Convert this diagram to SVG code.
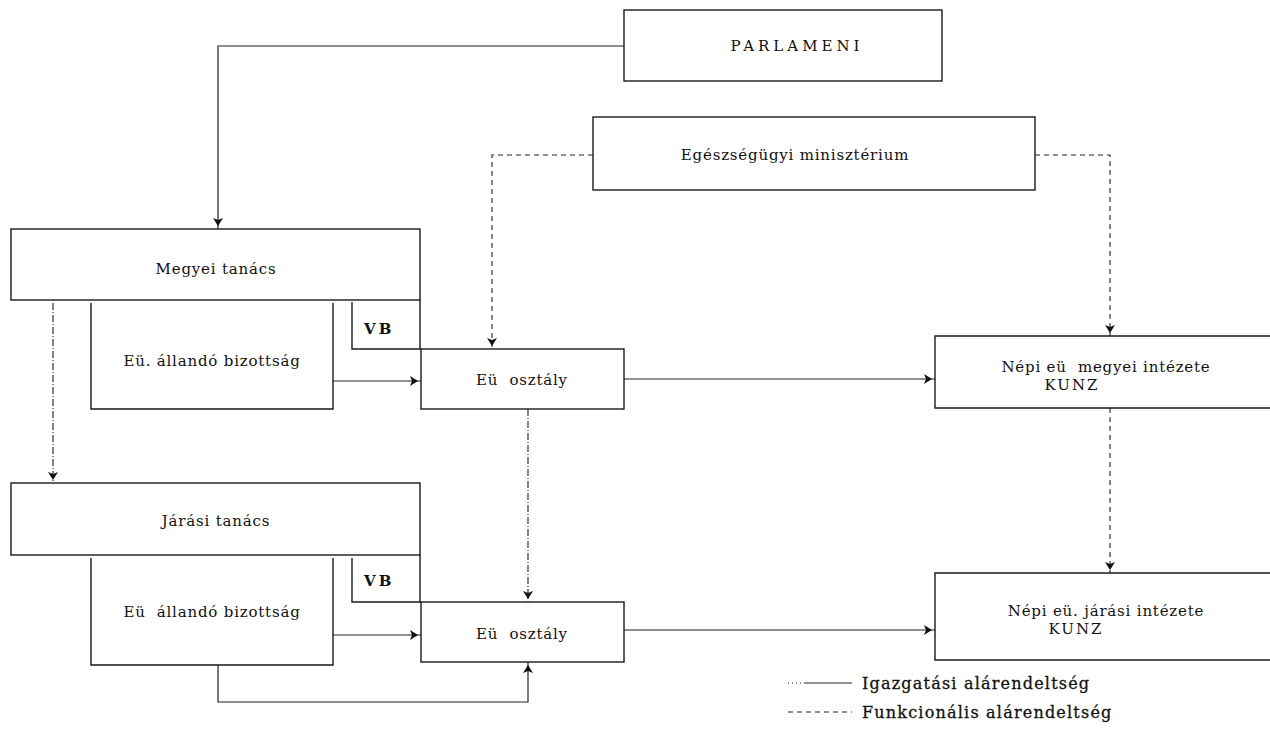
<svg xmlns="http://www.w3.org/2000/svg" width="1270" height="744" viewBox="0 0 1270 744">
  <style>
    .box { fill: none; stroke: #1a1a1a; stroke-width: 1.4; }
    .lbl { font-family: "DejaVu Serif", "Liberation Serif", serif; font-size: 15px; letter-spacing: 0.8px; fill: #111; text-anchor: middle; }
    .caps { letter-spacing: 4px; }
    .kunz { letter-spacing: 2px; }
    .vb { font-family: "DejaVu Serif", "Liberation Serif", serif; font-size: 15px; font-weight: bold; letter-spacing: 3px; fill: #111; }
    .leg { font-family: "DejaVu Serif", "Liberation Serif", serif; font-size: 16px; letter-spacing: 1.2px; fill: #111; stroke: #111; stroke-width: 0.3; }
    .adm { fill: none; stroke: #222; stroke-width: 1.2; }
    .fun { fill: none; stroke: #222; stroke-width: 1.1; stroke-dasharray: 5 4; }
    .dd { fill: none; stroke: #222; stroke-width: 1.1; stroke-dasharray: 7 2 1 2; }
  </style>
  <defs>
    <marker id="arr" markerUnits="userSpaceOnUse" markerWidth="14" markerHeight="14" refX="3" refY="0" viewBox="-10 -7 14 14" orient="auto">
      <path d="M-8,-5 L0,0 L-8,5 L-6,0 Z" fill="#111"/>
    </marker>
  </defs>
  <rect width="1270" height="744" fill="#fff"/>

  <!-- connectors -->
  <g id="connectors">
    <path class="adm" d="M624,46 H218 V229" marker-end="url(#arr)"/>
    <path class="fun" d="M593,155 H492 V349" marker-end="url(#arr)"/>
    <path class="fun" d="M1035,155 H1110 V336" marker-end="url(#arr)"/>
    <path class="dd" d="M53,303 V483" marker-end="url(#arr)"/>
    <path class="adm" d="M333,381 H421" marker-end="url(#arr)"/>
    <path class="adm" d="M624,379 H935" marker-end="url(#arr)"/>
    <path class="dd" d="M528,409 V602" marker-end="url(#arr)"/>
    <path class="fun" d="M1110,408 V573" marker-end="url(#arr)"/>
    <path class="adm" d="M333,635 H421" marker-end="url(#arr)"/>
    <path class="adm" d="M624,630 H935" marker-end="url(#arr)"/>
    <path class="adm" d="M218,665 V702 H528 V662" marker-end="url(#arr)"/>
  </g>

  <g id="parlament">
    <rect class="box" x="624" y="10" width="318" height="71"/>
    <text class="lbl caps" x="797" y="51">PARLAMENI</text>
  </g>

  <g id="miniszterium">
    <rect class="box" x="593" y="117" width="442" height="73"/>
    <text class="lbl" x="795" y="160">Egészségügyi minisztérium</text>
  </g>

  <g id="megyei-tanacs">
    <rect class="box" x="11" y="229" width="409" height="71"/>
    <text class="lbl" x="216" y="274">Megyei tanács</text>
  </g>

  <g id="megyei-bizottsag">
    <path class="box" d="M91,303 V409 H333 V303"/>
    <text class="lbl" x="212" y="366">Eü. állandó bizottság</text>
  </g>

  <g id="megyei-vb">
    <path class="box" d="M352,302 V349 H421 M420,300 V349"/>
    <text class="vb" x="364" y="334">VB</text>
  </g>

  <g id="megyei-osztaly">
    <rect class="box" x="421" y="349" width="203" height="60"/>
    <text class="lbl" x="522" y="385">Eü&#160; osztály</text>
  </g>

  <g id="megyei-intezet">
    <path class="box" d="M1270,336 H935 V408 H1270"/>
    <text class="lbl" x="1106" y="372">Népi eü&#160; megyei intézete</text>
    <text class="lbl kunz" x="1072" y="390">KUNZ</text>
  </g>

  <g id="jarasi-tanacs">
    <rect class="box" x="11" y="483" width="409" height="72"/>
    <text class="lbl" x="216" y="526">Járási tanács</text>
  </g>

  <g id="jarasi-bizottsag">
    <path class="box" d="M91,558 V665 H333 V558"/>
    <text class="lbl" x="212" y="617">Eü&#160; állandó bizottság</text>
  </g>

  <g id="jarasi-vb">
    <path class="box" d="M352,558 V602 H421 M420,555 V602"/>
    <text class="vb" x="364" y="586">VB</text>
  </g>

  <g id="jarasi-osztaly">
    <rect class="box" x="421" y="602" width="203" height="60"/>
    <text class="lbl" x="522" y="639">Eü&#160; osztály</text>
  </g>

  <g id="jarasi-intezet">
    <path class="box" d="M1270,573 H935 V660 H1270"/>
    <text class="lbl" x="1106" y="616">Népi eü. járási intézete</text>
    <text class="lbl kunz" x="1076" y="634">KUNZ</text>
  </g>

  <g id="legend">
    <path class="adm" d="M788,683 H805" stroke-dasharray="1 3"/>
    <path class="adm" d="M805,683 H852"/>
    <text class="leg" x="862" y="689">Igazgatási alárendeltség</text>
    <path class="fun" d="M788,712 H852" stroke-dasharray="1 4 4 4"/>
    <text class="leg" x="862" y="718">Funkcionális alárendeltség</text>
  </g>
</svg>
